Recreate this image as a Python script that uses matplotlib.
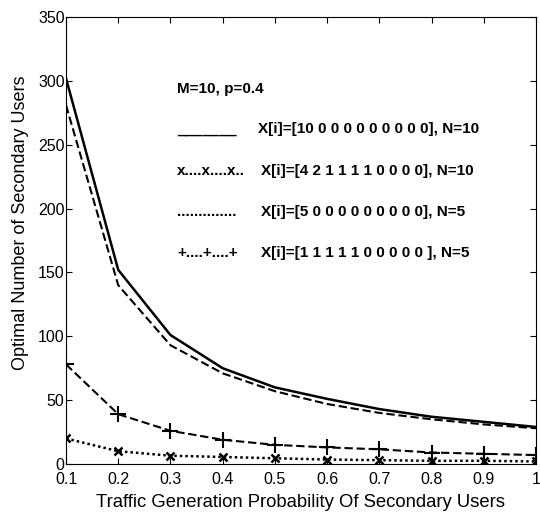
import matplotlib
matplotlib.use("Agg")
import matplotlib.pyplot as plt

plt.rcParams['font.family'] = ['Liberation Sans', 'DejaVu Sans']

# traffic generation probability
p = [0.1, 0.2, 0.3, 0.4, 0.5, 0.6, 0.7, 0.8, 0.9, 1.0]
p_labels = ["0.1", "0.2", "0.3", "0.4", "0.5", "0.6", "0.7", "0.8", "0.9", "1"]

# optimal number of secondary users
n_x10_n10 = [302, 152, 101, 75, 60, 51, 43, 37, 33, 29]
n_x4211_n10 = [281, 140, 93, 71, 57, 47, 40, 35, 31, 28]
n_x5_n5 = [20, 10, 6.5, 5.5, 4.5, 3.5, 3, 2.5, 2.5, 2]
n_x11111_n5 = [78, 39, 26, 19, 15, 13, 11.5, 9, 8, 7]

# hand made legend, as in the original
title_txt = "M=10, p=0.4"
samples = ["_______", "x....x....x..", "..............", "+....+....+"]
labels = [
    "X[i]=[10 0 0 0 0 0 0 0 0 0], N=10",
    "X[i]=[4 2 1 1 1 1 0 0 0 0], N=10",
    "X[i]=[5 0 0 0 0 0 0 0 0 0], N=5",
    "X[i]=[1 1 1 1 1 0 0 0 0 0 ], N=5",
]
rows_y = [259, 226, 194, 162]
label_x = [0.468, 0.474, 0.474, 0.474]

fig = plt.figure(figsize=(5.4, 5.13), dpi=100)
ax = fig.add_axes([66/540, 1-464/513, 470/540, 447/513])

ax.plot(p, n_x10_n10, color="k", lw=1.8, ls="-")
ax.plot(p, n_x4211_n10, color="k", lw=1.5, ls=(0, (4, 1.8)))
ax.plot(p, n_x11111_n5, color="k", lw=1.5, ls=(0, (4, 1.8)), marker="+", ms=11, mew=1.5)
ax.plot(p, n_x5_n5, color="k", lw=1.8, ls=(0, (1, 1.2)), marker="x", ms=6, mew=1.8)

ax.text(0.313, 290.5, title_txt, fontsize=11, fontweight="bold", va="baseline")
for s, t, yy, xx in zip(samples, labels, rows_y, label_x):
    ax.text(0.313, yy, s, fontsize=11, fontweight="bold", va="baseline")
    ax.text(xx, yy, t, fontsize=11, fontweight="bold", va="baseline")

ax.set_xlim(0.1, 1.0)
ax.set_ylim(0, 350)
ax.set_xticks(p)
ax.set_xticklabels(p_labels)
ax.set_yticks(range(0, 351, 50))
ax.tick_params(direction="in", top=True, right=True, labelsize=11.5, length=4, pad=1)
ax.tick_params(axis="x", pad=5.5)
for sp in ax.spines.values():
    sp.set_linewidth(0.8)

ax.set_xlabel("Traffic Generation Probability Of Secondary Users", fontsize=13.3, labelpad=5)
ax.set_ylabel("Optimal Number of Secondary Users", fontsize=13)
ax.yaxis.set_label_coords(-0.078, (464-223)/447)

fig.savefig("out.png", dpi=100)
